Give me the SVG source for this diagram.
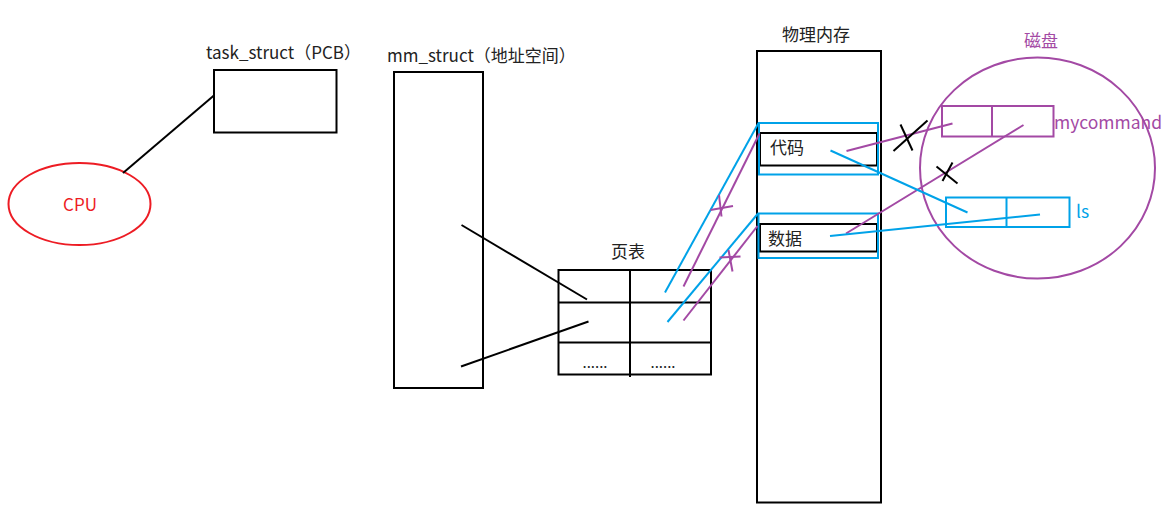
<svg xmlns="http://www.w3.org/2000/svg" width="1170" height="522" viewBox="0 0 1170 522">
<style>
text{font-family:"Noto Sans CJK SC","Microsoft YaHei",sans-serif;font-size:17px;fill:#222}
.box{fill:none;stroke:#000;stroke-width:2}
.blk{stroke:#000;stroke-width:2;fill:none}
.blu{stroke:#00A2E8;stroke-width:2;fill:none}
.pur{stroke:#A349A4;stroke-width:2;fill:none}
.red{stroke:#ED1C24;stroke-width:2;fill:none}
.dots{font-size:15px}
</style>
<rect width="1170" height="522" fill="#fff"/>
<g id="cpu">
<ellipse class="red" cx="79.5" cy="204" rx="71" ry="41"/>
<text x="80" y="211" text-anchor="middle" style="fill:#ED1C24">CPU</text>
</g>
<g id="task_struct">
<text x="206" y="59">task_struct（PCB）</text>
<rect class="box" x="214" y="70" width="122.5" height="62.5"/>
</g>
<g id="mm_struct">
<text x="387" y="62">mm_struct（地址空间）</text>
<rect class="box" x="394" y="72" width="89" height="316"/>
</g>
<g id="page_table">
<text x="628" y="258" text-anchor="middle">页表</text>
<rect class="box" x="558.5" y="270" width="152.5" height="104.5"/>
<line class="blk" x1="558.5" y1="302.5" x2="711" y2="302.5"/>
<line class="blk" x1="558.5" y1="342.5" x2="711" y2="342.5"/>
<line class="blk" x1="630" y1="270" x2="630" y2="377"/>
<text class="dots" x="595" y="368" text-anchor="middle">......</text>
<text class="dots" x="663" y="368" text-anchor="middle">......</text>
</g>
<g id="physical_memory">
<text x="816" y="41" text-anchor="middle">物理内存</text>
<rect class="box" x="757" y="51" width="124" height="451.5"/>
<rect class="box" x="760" y="133" width="117" height="32.5"/>
<text x="770" y="154">代码</text>
<rect class="blu" x="759" y="123" width="119" height="51.5"/>
<rect class="box" x="760" y="224" width="117" height="27.5"/>
<text x="768" y="245">数据</text>
<rect class="blu" x="758.5" y="213.5" width="119.5" height="44.5"/>
</g>
<g id="disk">
<text x="1041" y="47" text-anchor="middle" style="fill:#A349A4">磁盘</text>
<ellipse class="pur" cx="1037.5" cy="168" rx="117.5" ry="110.5"/>
<rect class="pur" x="942" y="106" width="111.5" height="30.5"/>
<line class="pur" x1="992" y1="106" x2="992" y2="136.5"/>
<text x="1054" y="129" style="fill:#A349A4;font-size:17.5px">mycommand</text>
<rect class="blu" x="946" y="197.5" width="123.5" height="29.5"/>
<line class="blu" x1="1006.5" y1="197.5" x2="1006.5" y2="227"/>
<text x="1076" y="218" style="fill:#00A2E8;font-size:17.5px">ls</text>
</g>
<g id="connectors">
<line class="blk" x1="123" y1="173" x2="214.5" y2="95"/>
<line class="blk" x1="461.5" y1="225" x2="587" y2="299.5"/>
<line class="blk" x1="461" y1="366.5" x2="588.5" y2="321.5"/>
<line class="blu" x1="665" y1="292.5" x2="758.5" y2="123"/>
<line class="pur" x1="683.5" y1="286.5" x2="759.5" y2="133.5"/>
<line class="pur" x1="710.5" y1="210" x2="733" y2="206"/>
<line class="pur" x1="719" y1="195" x2="721.5" y2="216.5"/>
<line class="blu" x1="667.5" y1="322" x2="758" y2="213.5"/>
<line class="pur" x1="683.5" y1="320.5" x2="757.5" y2="226"/>
<line class="pur" x1="719.5" y1="257.5" x2="740.5" y2="256.5"/>
<line class="pur" x1="728.5" y1="250" x2="732.5" y2="271.5"/>
<line class="pur" x1="846.5" y1="151" x2="952.5" y2="123.5"/>
<line class="pur" x1="846" y1="233.5" x2="1023.5" y2="125"/>
<line class="blu" x1="830.5" y1="150.5" x2="967.5" y2="212.5"/>
<line class="blu" x1="830" y1="236" x2="1040" y2="214.5"/>
<line class="blk" x1="900.5" y1="124.5" x2="912.5" y2="150.5"/>
<line class="blk" x1="893.5" y1="151" x2="927.5" y2="120.5"/>
<line class="blk" x1="936.5" y1="166.5" x2="957.5" y2="183.5"/>
<line class="blk" x1="942.5" y1="181" x2="952.5" y2="162.5"/>
</g>
</svg>
